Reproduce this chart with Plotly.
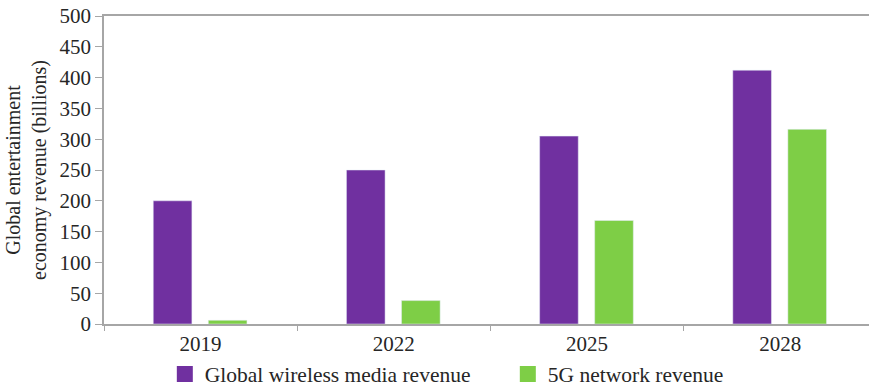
import plotly.graph_objects as go

years = ["2019", "2022", "2025", "2028"]
wireless_media = [200, 250, 305, 412]
network_5g = [6, 38, 168, 316]
series_names = ["Global wireless media revenue", "5G network revenue"]
y_ticks = [0, 50, 100, 150, 200, 250, 300, 350, 400, 450, 500]

PURPLE = "#7030A0"
GREEN = "#7ECE46"
FONT = "Liberation Serif"
TXT = "#262626"

fig = go.Figure()
fig.add_trace(go.Bar(x=years, y=wireless_media, name=series_names[0],
                     marker=dict(color=PURPLE), width=0.2, offset=-0.245,
                     showlegend=False))
fig.add_trace(go.Bar(x=years, y=network_5g, name=series_names[1],
                     marker=dict(color=GREEN), width=0.2, offset=0.04,
                     showlegend=False))
# legend entries
for nm, col in zip(series_names, [PURPLE, GREEN]):
    fig.add_trace(go.Scatter(x=[None], y=[None], mode="markers", name=nm,
                             marker=dict(symbol="square", size=18, color=col)))

fig.update_layout(
    width=869, height=387,
    margin=dict(l=104, r=0, t=16, b=63, autoexpand=False),
    paper_bgcolor="white", plot_bgcolor="white",
    barmode="overlay",
    font=dict(family=FONT, size=21, color=TXT),
    showlegend=True,
    legend=dict(orientation="h", x=0.0795, xanchor="left",
                yref="container", y=1 - 374 / 387, yanchor="middle",
                font=dict(family=FONT, size=21.5, color=TXT),
                itemwidth=30, entrywidth=298, bgcolor="rgba(0,0,0,0)"),
    xaxis=dict(type="category", range=[-0.5, 3.46],
               showline=True, linecolor="#A6A6A6", linewidth=1.5, mirror=True,
               ticks="outside", tickson="boundaries", ticklen=5, tickcolor="#A6A6A6",
               showgrid=False, tickfont=dict(family=FONT, size=21, color=TXT)),
    yaxis=dict(range=[0, 500], tickvals=y_ticks,
               showline=True, linecolor="#A6A6A6", linewidth=1.5,
               ticks="outside", ticklen=7, tickcolor="#A6A6A6",
               showgrid=False, zeroline=False,
               tickfont=dict(family=FONT, size=21, color=TXT),
               title=dict(text="Global entertainment<br>economy revenue (billions)",
                          font=dict(family=FONT, size=20, color=TXT), standoff=8)),
)

fig.write_html("out.html", config={"displayModeBar": False},
               post_script="document.body.style.margin='0';")
